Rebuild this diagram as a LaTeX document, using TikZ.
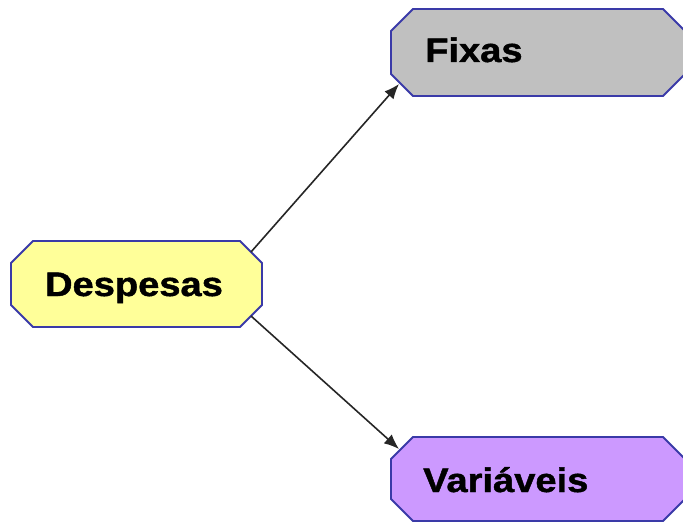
\documentclass[tikz,border=0pt]{standalone}
\usepackage{fontspec}
\setmainfont[BoldFeatures={FakeBold=1.2}]{Liberation Sans}
\usetikzlibrary{arrows.meta,calc}
\definecolor{boxyellow}{HTML}{FFFF99}
\definecolor{boxgray}{HTML}{C0C0C0}
\definecolor{boxpurple}{HTML}{CC99FF}
\definecolor{boxedge}{HTML}{3A3AA8}
\tikzset{
  frame/.style={inner sep=0pt, outer sep=0pt},
  outline/.style={draw=boxedge, line width=1.8pt, line join=miter},
  label/.style={inner sep=0pt, font=\bfseries\fontsize{34}{38}\selectfont},
  conn/.style={line width=1.6pt, draw=black!85, -{Latex[length=15pt,width=12pt]}}
}
\newcommand{\chamfbox}[2]{%
  \path[outline, fill=#2]
    ([xshift=22pt]#1.north west) -- ([xshift=-22pt]#1.north east)
    -- ([yshift=-22pt]#1.north east) -- ([yshift=22pt]#1.south east)
    -- ([xshift=-22pt]#1.south east) -- ([xshift=22pt]#1.south west)
    -- ([yshift=22pt]#1.south west) -- ([yshift=-22pt]#1.north west) -- cycle;}
\newcommand{\wide}[1]{\scalebox{1.12}[1]{#1}}
\begin{document}
\begin{tikzpicture}[x=1pt,y=1pt]
\useasboundingbox (0,0) rectangle (683,523);
\clip (0,0) rectangle (683,523);
% frames (y measured upward: 523 - image y)
\node[frame, minimum width=251pt, minimum height=86pt] (d) at (136.5,239) {};
\node[frame, minimum width=294pt, minimum height=87pt] (f) at (538,470.5) {};
\node[frame, minimum width=294pt, minimum height=84pt] (v) at (538,44) {};
\chamfbox{d}{boxyellow}
\chamfbox{f}{boxgray}
\chamfbox{v}{boxpurple}
\node[label, anchor=base] (dt) at (134,227) {\wide{Despesas}};
\node[label, anchor=base west] (ft) at (425,461) {\wide{Fixas}};
\node[label, anchor=base west] (vt) at (423,31) {\wide{Variáveis}};
% connectors between chamfer midpoints
\coordinate (d1) at ($(d.north -| d.east)+(-11pt,-11pt)$);
\coordinate (d2) at ($(d.south -| d.east)+(-11pt,11pt)$);
\coordinate (f1) at ($(f.south -| f.west)+(8pt,12pt)$);
\coordinate (v1) at ($(v.north -| v.west)+(8pt,-12pt)$);
\draw[conn] (d1) -- (f1);
\draw[conn] (d2) -- (v1);
\end{tikzpicture}
\end{document}
